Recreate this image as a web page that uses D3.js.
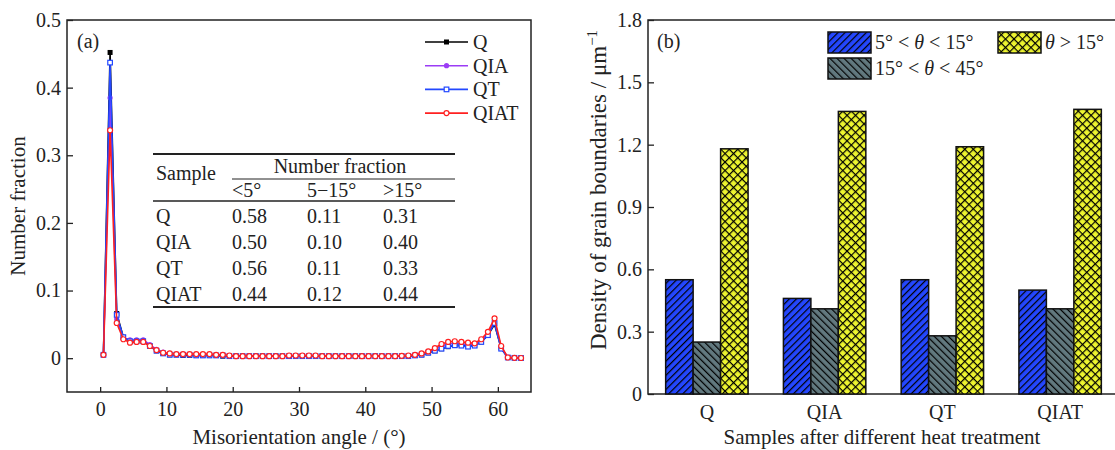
<!DOCTYPE html>
<html>
<head>
<meta charset="utf-8">
<script src="https://cdn.jsdelivr.net/npm/d3@7"></script>
<style>
  body { margin: 0; background: #fff; }
  svg text { font-family: "Liberation Serif", "Times New Roman", serif !important; fill: #222; }
</style>
</head>
<body>
<svg id="chart" width="1115" height="450"></svg>
<script>
// ---- data, panel (a) ----
var angles = d3.range(0.5, 64, 1); // bin centres 0.5 ... 63.5

var seriesNames = ["Q", "QIA", "QT", "QIAT"];
var seriesColors = ["#000000", "#9b3cf5", "#2348ff", "#ff2020"];

var fracQ = [0.005, 0.452, 0.066, 0.031, 0.025, 0.025, 0.025, 0.018, 0.011, 0.007,
  0.005, 0.005, 0.004, 0.004, 0.004, 0.004, 0.004, 0.004, 0.003, 0.003,
  0.003, 0.003, 0.003, 0.003, 0.003, 0.003, 0.003, 0.003, 0.003, 0.003,
  0.003, 0.003, 0.003, 0.003, 0.003, 0.003, 0.003, 0.003, 0.003, 0.003,
  0.003, 0.003, 0.003, 0.003, 0.003, 0.003, 0.003, 0.004, 0.005, 0.008,
  0.011, 0.014, 0.017, 0.019, 0.019, 0.018, 0.019, 0.024, 0.034, 0.050,
  0.015, 0.001, 0.0005, 0.0003];
var fracQIA = [0.005, 0.385, 0.058, 0.030, 0.027, 0.027, 0.027, 0.020, 0.013, 0.009,
  0.007, 0.006, 0.006, 0.005, 0.005, 0.005, 0.005, 0.005, 0.004, 0.004,
  0.003, 0.003, 0.003, 0.003, 0.003, 0.003, 0.003, 0.003, 0.003, 0.004,
  0.004, 0.004, 0.004, 0.003, 0.003, 0.003, 0.003, 0.003, 0.003, 0.003,
  0.003, 0.003, 0.003, 0.003, 0.003, 0.003, 0.004, 0.005, 0.006, 0.009,
  0.013, 0.018, 0.021, 0.022, 0.021, 0.020, 0.020, 0.026, 0.036, 0.055,
  0.016, 0.001, 0.0005, 0.0003];
var fracQT = [0.005, 0.437, 0.064, 0.031, 0.025, 0.025, 0.025, 0.018, 0.011, 0.007,
  0.005, 0.005, 0.005, 0.005, 0.004, 0.004, 0.004, 0.004, 0.004, 0.003,
  0.003, 0.003, 0.003, 0.003, 0.003, 0.003, 0.003, 0.003, 0.003, 0.003,
  0.003, 0.003, 0.003, 0.003, 0.003, 0.003, 0.003, 0.003, 0.003, 0.003,
  0.003, 0.003, 0.003, 0.003, 0.003, 0.003, 0.003, 0.004, 0.005, 0.008,
  0.011, 0.014, 0.018, 0.019, 0.0185, 0.017, 0.0185, 0.024, 0.034, 0.052,
  0.014, 0.001, 0.0005, 0.0002];
var fracQIAT = [0.005, 0.337, 0.052, 0.028, 0.023, 0.024, 0.024, 0.018, 0.012, 0.008,
  0.007, 0.006, 0.006, 0.006, 0.006, 0.006, 0.006, 0.005, 0.005, 0.004,
  0.003, 0.003, 0.003, 0.003, 0.003, 0.003, 0.003, 0.003, 0.004, 0.004,
  0.004, 0.004, 0.004, 0.003, 0.003, 0.003, 0.003, 0.003, 0.003, 0.003,
  0.003, 0.003, 0.003, 0.003, 0.003, 0.0035, 0.004, 0.005, 0.007, 0.010,
  0.015, 0.021, 0.024, 0.025, 0.024, 0.023, 0.022, 0.028, 0.039, 0.059,
  0.018, 0.001, 0.0005, 0.0003];
var seriesValues = [fracQ, fracQIA, fracQT, fracQIAT];

var xTicksA = [0, 10, 20, 30, 40, 50, 60];
var yTicksA = [0, 0.1, 0.2, 0.3, 0.4, 0.5];

// inset table
var tableHeader = ["<5°", "5−15°", ">15°"];
var tableSamples = ["Q", "QIA", "QT", "QIAT"];
var tableLow = ["0.58", "0.50", "0.56", "0.44"];
var tableMid = ["0.11", "0.10", "0.11", "0.12"];
var tableHigh = ["0.31", "0.40", "0.33", "0.44"];

// ---- data, panel (b) ----
var samples = ["Q", "QIA", "QT", "QIAT"];
var gbTypes = ["low", "mid", "high"];
var density5to15 = [0.55, 0.46, 0.55, 0.50];
var density15to45 = [0.25, 0.41, 0.28, 0.41];
var densityAbove15 = [1.18, 1.36, 1.19, 1.37];
var yTicksB = [0, 0.3, 0.6, 0.9, 1.2, 1.5, 1.8];

var svg = d3.select("#chart");
var fmt = function(d) { return d === 0 ? "0" : d3.format(".1f")(d); };

// ---- patterns ----
var defs = svg.append("defs");
function hatch(id, bg, angle, cross) {
  var s = cross ? 6 : 5;
  var p = defs.append("pattern")
    .attr("id", id)
    .attr("patternUnits", "userSpaceOnUse")
    .attr("width", s).attr("height", s)
    .attr("patternTransform", "rotate(" + angle + ")");
  p.append("rect").attr("width", s).attr("height", s).attr("fill", bg);
  p.append("line").attr("x1", 0.6).attr("y1", 0).attr("x2", 0.6).attr("y2", s)
    .attr("stroke", "#000").attr("stroke-width", 1.2);
  if (cross) {
    p.append("line").attr("x1", 0).attr("y1", 0.6).attr("x2", s).attr("y2", 0.6)
      .attr("stroke", "#000").attr("stroke-width", 1.2);
  }
}
hatch("pLow", "#2447ff", 45, false);
hatch("pMid", "#62797f", -45, false);
hatch("pHigh", "#eef530", 45, true);
var fills = {low: "url(#pLow)", mid: "url(#pMid)", high: "url(#pHigh)"};

// ================= panel (a) =================
var xA = d3.scaleLinear().domain([-5, 65]).range([67, 531]);
var yA = d3.scaleLinear().domain([-0.05, 0.5]).range([392, 20]);

var gA = svg.append("g");
gA.append("rect").attr("x", 67).attr("y", 20).attr("width", 464).attr("height", 372)
  .attr("fill", "none").attr("stroke", "#222").attr("stroke-width", 1.5);

gA.append("g").attr("transform", "translate(0,392)")
  .call(d3.axisBottom(xA).tickValues(xTicksA).tickSizeInner(-5).tickSizeOuter(0).tickPadding(10))
  .call(function(g) { g.select(".domain").remove(); });
gA.append("g").attr("transform", "translate(67,0)")
  .call(d3.axisLeft(yA).tickValues(yTicksA).tickFormat(fmt).tickSizeInner(-6).tickSizeOuter(0).tickPadding(6))
  .call(function(g) { g.select(".domain").remove(); });

var line = d3.line().x(function(d) { return xA(d[0]); }).y(function(d) { return yA(d[1]); });

seriesNames.forEach(function(name, i) {
  var pts = angles.map(function(a, j) { return [a, seriesValues[i][j]]; });
  var g = gA.append("g");
  g.append("path").datum(pts).attr("d", line)
    .attr("fill", "none").attr("stroke", seriesColors[i]).attr("stroke-width", 1.6);
  drawMarkers(g, pts, i);
});

function drawMarkers(g, pts, i) {
  var c = seriesColors[i];
  var sel = g.selectAll(".m").data(pts).enter();
  if (i === 0) {
    sel.append("rect").attr("x", function(d) { return xA(d[0]) - 2.5; })
      .attr("y", function(d) { return yA(d[1]) - 2.5; })
      .attr("width", 5).attr("height", 5).attr("fill", c);
  } else if (i === 1) {
    sel.append("circle").attr("cx", function(d) { return xA(d[0]); })
      .attr("cy", function(d) { return yA(d[1]); }).attr("r", 2.6).attr("fill", c);
  } else if (i === 2) {
    sel.append("rect").attr("x", function(d) { return xA(d[0]) - 2.3; })
      .attr("y", function(d) { return yA(d[1]) - 2.3; })
      .attr("width", 4.6).attr("height", 4.6).attr("fill", "#fff")
      .attr("stroke", c).attr("stroke-width", 1.2);
  } else {
    sel.append("circle").attr("cx", function(d) { return xA(d[0]); })
      .attr("cy", function(d) { return yA(d[1]); }).attr("r", 2.5)
      .attr("fill", "#fff").attr("stroke", c).attr("stroke-width", 1.2);
  }
}

// legend (a)
seriesNames.forEach(function(name, i) {
  var y = 42 + i * 23.7;
  var g = gA.append("g");
  g.append("line").attr("x1", 425).attr("x2", 468).attr("y1", y).attr("y2", y)
    .attr("stroke", seriesColors[i]).attr("stroke-width", 1.6);
  drawMarkers(g, [[xA.invert(446.5), yA.invert(y)]], i);
  g.append("text").attr("x", 473).attr("y", y + 7).attr("font-size", 20).text(name);
});

gA.append("text").attr("x", 77).attr("y", 48).attr("font-size", 20).text("(a)");

// inset table
var tb = gA.append("g").attr("font-size", 20);
[[153, 455, 154, 2], [232, 455, 179, 1], [153, 455, 201, 1.5], [153, 455, 307, 2]].forEach(function(r) {
  tb.append("line").attr("x1", r[0]).attr("x2", r[1]).attr("y1", r[2]).attr("y2", r[2])
    .attr("stroke", "#222").attr("stroke-width", r[3]);
});
tb.append("text").attr("x", 156).attr("y", 180).text("Sample");
tb.append("text").attr("x", 340).attr("y", 173).attr("text-anchor", "middle").text("Number fraction");
var colX = [232, 307, 383];
tableHeader.forEach(function(h, k) {
  tb.append("text").attr("x", colX[k]).attr("y", 197).text(h);
});
tableSamples.forEach(function(s, r) {
  var y = 223 + r * 26;
  tb.append("text").attr("x", 156).attr("y", y).text(s);
  tb.append("text").attr("x", colX[0]).attr("y", y).text(tableLow[r]);
  tb.append("text").attr("x", colX[1]).attr("y", y).text(tableMid[r]);
  tb.append("text").attr("x", colX[2]).attr("y", y).text(tableHigh[r]);
});

gA.append("text").attr("x", 299).attr("y", 444).attr("text-anchor", "middle")
  .attr("font-size", 21).text("Misorientation angle / (°)");
gA.append("text").attr("transform", "translate(25,206) rotate(-90)").attr("text-anchor", "middle")
  .attr("font-size", 21).text("Number fraction");

// ================= panel (b) =================
var xB = d3.scaleBand().domain(samples).range([648, 1119]).paddingInner(0.3).paddingOuter(0.15);
var xSub = d3.scaleBand().domain(gbTypes).range([0, xB.bandwidth()]);
var yB = d3.scaleLinear().domain([0, 1.8]).range([394, 20]);

var gB = svg.append("g");
gB.append("rect").attr("x", 648).attr("y", 20).attr("width", 471).attr("height", 374)
  .attr("fill", "none").attr("stroke", "#222").attr("stroke-width", 1.5);

var rows = samples.map(function(s, i) {
  return {sample: s, low: density5to15[i], mid: density15to45[i], high: densityAbove15[i]};
});
gB.selectAll(".grp").data(rows).enter().append("g")
  .attr("transform", function(d) { return "translate(" + xB(d.sample) + ",0)"; })
  .selectAll("rect").data(function(d) { return gbTypes.map(function(k) { return {k: k, v: d[k]}; }); })
  .enter().append("rect")
  .attr("x", function(d) { return xSub(d.k); })
  .attr("y", function(d) { return yB(d.v); })
  .attr("width", xSub.bandwidth())
  .attr("height", function(d) { return yB(0) - yB(d.v); })
  .attr("fill", function(d) { return fills[d.k]; })
  .attr("stroke", "#111").attr("stroke-width", 1.5);

gB.append("g").attr("transform", "translate(0,394)")
  .call(d3.axisBottom(xB).tickSize(0).tickPadding(11))
  .call(function(g) { g.select(".domain").remove(); });
gB.append("g").attr("transform", "translate(648,0)")
  .call(d3.axisLeft(yB).tickValues(yTicksB).tickFormat(fmt).tickSizeInner(-6).tickSizeOuter(0).tickPadding(6))
  .call(function(g) { g.select(".domain").remove(); });

gB.append("text").attr("x", 657).attr("y", 48).attr("font-size", 20).text("(b)");

// legend (b)
var legB = [
  {k: "low", x: 828, y: 32, parts: ["5° < ", "θ", " < 15°"]},
  {k: "high", x: 998, y: 32, parts: ["θ", " > 15°"]},
  {k: "mid", x: 828, y: 58, parts: ["15° < ", "θ", " < 45°"]}
];
legB.forEach(function(l) {
  gB.append("rect").attr("x", l.x).attr("y", l.y).attr("width", 43).attr("height", 21)
    .attr("fill", fills[l.k]).attr("stroke", "#111").attr("stroke-width", 1.5);
  var t = gB.append("text").attr("x", l.x + 47).attr("y", l.y + 17).attr("font-size", 20)
    .attr("xml:space", "preserve");
  l.parts.forEach(function(p) {
    t.append("tspan").attr("font-style", p === "θ" ? "italic" : "normal").text(p);
  });
});

gB.append("text").attr("x", 882).attr("y", 444).attr("text-anchor", "middle")
  .attr("font-size", 21).text("Samples after different heat treatment");
var yl = gB.append("text").attr("transform", "translate(606,190) rotate(-90)")
  .attr("text-anchor", "middle").attr("font-size", 23);
yl.append("tspan").text("Density of grain boundaries / μm");
yl.append("tspan").attr("dy", -9).attr("font-size", 15).text("−1");

svg.selectAll(".tick text").attr("font-size", 20).attr("fill", "#222");
svg.selectAll(".tick line").attr("stroke", "#222").attr("stroke-width", 1.3);
</script>
</body>
</html>
